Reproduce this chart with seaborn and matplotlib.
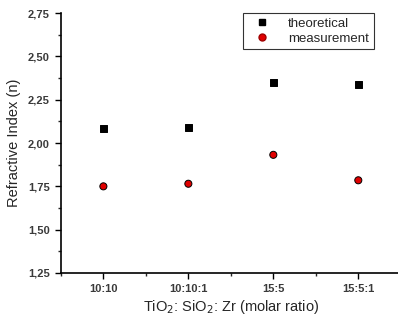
import matplotlib
matplotlib.use("Agg")
import matplotlib.pyplot as plt
import seaborn as sns
import pandas as pd
from matplotlib.ticker import MultipleLocator, FuncFormatter
from matplotlib.lines import Line2D

categories = ["10:10", "10:10:1", "15:5", "15:5:1"]
theoretical = [2.085, 2.088, 2.35, 2.34]
measurement = [1.75, 1.765, 1.932, 1.785]

df = pd.DataFrame({
    "ratio": categories * 2,
    "n": theoretical + measurement,
    "series": ["theoretical"] * 4 + ["measurement"] * 4,
})

sns.set_style("ticks")
plt.rcParams["font.family"] = ["Liberation Sans", "DejaVu Sans"]

fig = plt.figure(figsize=(3.98, 3.2), dpi=100)
ax = fig.add_axes([0.153, 0.147, 0.854, 0.812])

sns.scatterplot(data=df, x="ratio", y="n", hue="series", style="series",
                markers={"theoretical": "s", "measurement": "o"},
                palette={"theoretical": "black", "measurement": "#e00000"},
                s=26, ax=ax, legend=False, zorder=3)
for coll, ec in zip(ax.collections, ["black", "#a00000"]):
    coll.set_edgecolor(ec)
    coll.set_linewidth(0.7)

ax.set_xlim(-0.5, 3.5)
ax.set_ylim(1.25, 2.75)
ax.yaxis.set_major_locator(MultipleLocator(0.25))
ax.yaxis.set_minor_locator(MultipleLocator(0.125))
ax.yaxis.set_major_formatter(FuncFormatter(lambda v, p: f"{v:.2f}".replace(".", ",")))
ax.set_xticks(range(len(categories)))
ax.set_xticklabels(categories)
ax.set_xticks([-0.5, 0.5, 1.5, 2.5, 3.5], minor=True)
ax.tick_params(axis="both", which="major", direction="out", length=4, width=1,
               labelsize=8, colors="black", pad=4)
ax.tick_params(axis="both", which="minor", direction="out", length=2.5, width=1)
for lab in ax.get_xticklabels() + ax.get_yticklabels():
    lab.set_fontweight("bold")
    lab.set_color("#3a3a3a")

sns.despine(ax=ax)
for sp in ["left", "bottom"]:
    ax.spines[sp].set_linewidth(1.2)
    ax.spines[sp].set_color("black")

ax.set_xlabel("TiO$_2$: SiO$_2$: Zr (molar ratio)", fontsize=10.5, labelpad=3)
ax.set_ylabel("Refractive Index (n)", fontsize=10.5, labelpad=5)

handles = [
    Line2D([], [], marker="s", color="black", linestyle="none", markersize=5),
    Line2D([], [], marker="o", color="#e00000", markeredgecolor="#a00000",
           linestyle="none", markersize=5),
]
leg = ax.legend(handles, ["theoretical", "measurement"], loc="upper left",
                bbox_to_anchor=(0.535, 1.0), borderaxespad=0, frameon=True,
                fancybox=False, edgecolor="black", fontsize=9.5,
                handletextpad=0.9, borderpad=0.35, labelspacing=0.2,
                handlelength=2.2)
leg.get_frame().set_linewidth(0.8)

fig.savefig("out.png", dpi=100)
